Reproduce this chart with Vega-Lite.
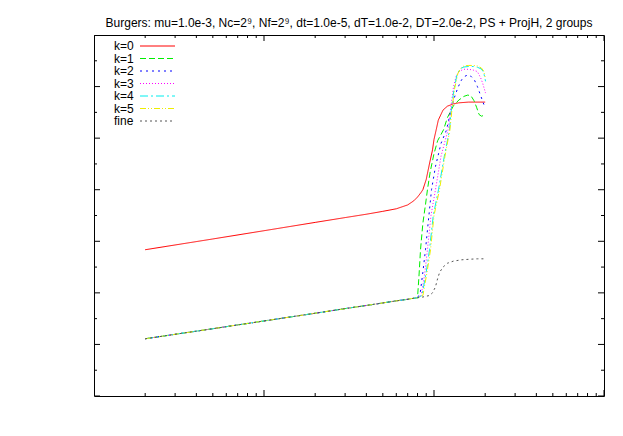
{
  "$schema": "https://vega.github.io/schema/vega-lite/v6.json",
  "width": 510,
  "height": 361,
  "autosize": {"type": "none"},
  "padding": {"left": 94, "top": 35, "right": 19, "bottom": 40},
  "background": "white",
  "config": {
    "font": "Liberation Sans",
    "view": {"stroke": "#000", "strokeWidth": 1},
    "axis": {"grid": false, "domain": false, "ticks": false, "labelColor": "#000", "titleColor": "#000", "labelFont": "Liberation Sans", "titleFont": "Liberation Sans", "labelFontSize": 11.5, "titleFontSize": 11.5, "titleFontWeight": "normal"}
  },
  "title": {"text": "Burgers: mu=1.0e-3, Nc=2⁹, Nf=2⁹, dt=1.0e-5, dT=1.0e-2, DT=2.0e-2, PS + ProjH, 2 groups", "font": "Liberation Sans", "fontSize": 12, "fontWeight": "normal", "color": "#000", "anchor": "middle", "offset": 5},
  "datasets": {
    "xticks": [
      {"v":0.01,"kind":"major"},{"v":0.1,"kind":"major"},{"v":1,"kind":"major"},{"v":10,"kind":"major"},
      {"v":0.02,"kind":"minor"},{"v":0.03,"kind":"minor"},{"v":0.04,"kind":"minor"},{"v":0.05,"kind":"minor"},{"v":0.06,"kind":"minor"},{"v":0.07,"kind":"minor"},{"v":0.08,"kind":"minor"},{"v":0.09,"kind":"minor"},
      {"v":0.2,"kind":"minor"},{"v":0.3,"kind":"minor"},{"v":0.4,"kind":"minor"},{"v":0.5,"kind":"minor"},{"v":0.6,"kind":"minor"},{"v":0.7,"kind":"minor"},{"v":0.8,"kind":"minor"},{"v":0.9,"kind":"minor"},
      {"v":2,"kind":"minor"},{"v":3,"kind":"minor"},{"v":4,"kind":"minor"},{"v":5,"kind":"minor"},{"v":6,"kind":"minor"},{"v":7,"kind":"minor"},{"v":8,"kind":"minor"},{"v":9,"kind":"minor"}
    ],
    "yticks": [
      {"v":1,"kind":"major"},{"v":0.01,"kind":"major"},{"v":0.0001,"kind":"major"},{"v":1e-6,"kind":"major"},{"v":1e-8,"kind":"major"},{"v":1e-10,"kind":"major"},{"v":1e-12,"kind":"major"},{"v":1e-14,"kind":"major"},
      {"v":0.1,"kind":"minor"},{"v":0.001,"kind":"minor"},{"v":1e-5,"kind":"minor"},{"v":1e-7,"kind":"minor"},{"v":1e-9,"kind":"minor"},{"v":1e-11,"kind":"minor"},{"v":1e-13,"kind":"minor"}
    ],
    "curves": [
    {"k":"k=0","t":0.02,"e":4.7e-9},{"k":"k=0","t":0.05,"e":1.23e-8},{"k":"k=0","t":0.1,"e":2.57e-8},{"k":"k=0","t":0.2,"e":5.4e-8},{"k":"k=0","t":0.3,"e":8.3e-8},{"k":"k=0","t":0.4,"e":1.12e-7},{"k":"k=0","t":0.5,"e":1.45e-7},{"k":"k=0","t":0.6,"e":1.82e-7},{"k":"k=0","t":0.7,"e":2.57e-7},{"k":"k=0","t":0.76,"e":3.7e-7},{"k":"k=0","t":0.8,"e":5.2e-7},{"k":"k=0","t":0.84,"e":7.9e-7},{"k":"k=0","t":0.86,"e":1.0e-6},{"k":"k=0","t":0.9,"e":2.5e-6},{"k":"k=0","t":0.94,"e":1.0e-5},{"k":"k=0","t":0.98,"e":3.5e-5},{"k":"k=0","t":1.0,"e":8.9e-5},{"k":"k=0","t":1.03,"e":2.1e-4},{"k":"k=0","t":1.06,"e":5.0e-4},{"k":"k=0","t":1.13,"e":1.23e-3},{"k":"k=0","t":1.2,"e":1.74e-3},{"k":"k=0","t":1.3,"e":2.14e-3},{"k":"k=0","t":1.4,"e":2.34e-3},{"k":"k=0","t":1.6,"e":2.5e-3},{"k":"k=0","t":2.0,"e":2.5e-3},

    {"k":"k=1","t":0.02,"e":1.66e-12},{"k":"k=1","t":0.05,"e":4.07e-12},{"k":"k=1","t":0.1,"e":8.13e-12},{"k":"k=1","t":0.2,"e":1.62e-11},{"k":"k=1","t":0.3,"e":2.45e-11},{"k":"k=1","t":0.4,"e":3.24e-11},{"k":"k=1","t":0.5,"e":4.07e-11},{"k":"k=1","t":0.6,"e":4.9e-11},{"k":"k=1","t":0.7,"e":5.62e-11},{"k":"k=1","t":0.76,"e":6.17e-11},{"k":"k=1","t":0.8,"e":6.46e-11},
    {"k":"k=1","t":0.815,"e":3.98e-10},{"k":"k=1","t":0.833,"e":4.68e-9},{"k":"k=1","t":0.86,"e":5.0e-8},{"k":"k=1","t":0.89,"e":2.5e-7},{"k":"k=1","t":0.915,"e":1.0e-6},{"k":"k=1","t":0.95,"e":5.0e-6},{"k":"k=1","t":1.0,"e":2.5e-5},{"k":"k=1","t":1.05,"e":7.9e-5},{"k":"k=1","t":1.137,"e":2.09e-4},{"k":"k=1","t":1.2,"e":6.3e-4},{"k":"k=1","t":1.3,"e":1.78e-3},{"k":"k=1","t":1.4,"e":3.0e-3},{"k":"k=1","t":1.5,"e":4.17e-3},{"k":"k=1","t":1.58,"e":4.68e-3},{"k":"k=1","t":1.65,"e":4.37e-3},{"k":"k=1","t":1.72,"e":2.82e-3},{"k":"k=1","t":1.78,"e":1.58e-3},{"k":"k=1","t":1.84,"e":8.3e-4},{"k":"k=1","t":1.9,"e":7.1e-4},{"k":"k=1","t":1.96,"e":7.6e-4},{"k":"k=1","t":2.0,"e":7.9e-4},

    {"k":"k=2","t":0.02,"e":1.66e-12},{"k":"k=2","t":0.05,"e":4.07e-12},{"k":"k=2","t":0.1,"e":8.13e-12},{"k":"k=2","t":0.2,"e":1.62e-11},{"k":"k=2","t":0.3,"e":2.45e-11},{"k":"k=2","t":0.4,"e":3.24e-11},{"k":"k=2","t":0.5,"e":4.07e-11},{"k":"k=2","t":0.6,"e":4.9e-11},{"k":"k=2","t":0.7,"e":5.62e-11},{"k":"k=2","t":0.76,"e":6.17e-11},{"k":"k=2","t":0.8,"e":6.46e-11},
    {"k":"k=2","t":0.83,"e":1.0e-10},{"k":"k=2","t":0.86,"e":6.3e-10},{"k":"k=2","t":0.891,"e":4.68e-9},{"k":"k=2","t":0.93,"e":7.9e-8},{"k":"k=2","t":0.967,"e":1.0e-6},{"k":"k=2","t":1.02,"e":7.9e-6},{"k":"k=2","t":1.1,"e":6.3e-5},{"k":"k=2","t":1.185,"e":2.09e-4},{"k":"k=2","t":1.25,"e":1.0e-3},{"k":"k=2","t":1.303,"e":3.0e-3},{"k":"k=2","t":1.38,"e":8.9e-3},{"k":"k=2","t":1.452,"e":1.82e-2},{"k":"k=2","t":1.52,"e":2.51e-2},{"k":"k=2","t":1.58,"e":2.82e-2},{"k":"k=2","t":1.65,"e":2.51e-2},{"k":"k=2","t":1.73,"e":1.78e-2},{"k":"k=2","t":1.8,"e":1.0e-2},{"k":"k=2","t":1.87,"e":5.0e-3},{"k":"k=2","t":1.94,"e":2.51e-3},{"k":"k=2","t":2.0,"e":1.51e-3},

    {"k":"k=3","t":0.02,"e":1.66e-12},{"k":"k=3","t":0.05,"e":4.07e-12},{"k":"k=3","t":0.1,"e":8.13e-12},{"k":"k=3","t":0.2,"e":1.62e-11},{"k":"k=3","t":0.3,"e":2.45e-11},{"k":"k=3","t":0.4,"e":3.24e-11},{"k":"k=3","t":0.5,"e":4.07e-11},{"k":"k=3","t":0.6,"e":4.9e-11},{"k":"k=3","t":0.7,"e":5.62e-11},{"k":"k=3","t":0.76,"e":6.17e-11},{"k":"k=3","t":0.8,"e":6.46e-11},
    {"k":"k=3","t":0.84,"e":7.9e-11},{"k":"k=3","t":0.88,"e":5.0e-10},{"k":"k=3","t":0.915,"e":4.68e-9},{"k":"k=3","t":0.96,"e":1.0e-7},{"k":"k=3","t":1.02,"e":1.0e-6},{"k":"k=3","t":1.1,"e":2.0e-5},{"k":"k=3","t":1.209,"e":2.09e-4},{"k":"k=3","t":1.251,"e":1.26e-3},{"k":"k=3","t":1.303,"e":1.0e-2},{"k":"k=3","t":1.35,"e":2.51e-2},{"k":"k=3","t":1.41,"e":3.98e-2},{"k":"k=3","t":1.5,"e":4.68e-2},{"k":"k=3","t":1.6,"e":4.68e-2},{"k":"k=3","t":1.7,"e":4.37e-2},{"k":"k=3","t":1.8,"e":3.8e-2},{"k":"k=3","t":1.88,"e":2.2e-2},{"k":"k=3","t":1.93,"e":1.4e-2},{"k":"k=3","t":2.01,"e":5.6e-3},

    {"k":"k=4","t":0.02,"e":1.66e-12},{"k":"k=4","t":0.05,"e":4.07e-12},{"k":"k=4","t":0.1,"e":8.13e-12},{"k":"k=4","t":0.2,"e":1.62e-11},{"k":"k=4","t":0.3,"e":2.45e-11},{"k":"k=4","t":0.4,"e":3.24e-11},{"k":"k=4","t":0.5,"e":4.07e-11},{"k":"k=4","t":0.6,"e":4.9e-11},{"k":"k=4","t":0.7,"e":5.62e-11},{"k":"k=4","t":0.76,"e":6.17e-11},{"k":"k=4","t":0.8,"e":6.46e-11},
    {"k":"k=4","t":0.85,"e":7.9e-11},{"k":"k=4","t":0.9,"e":6.3e-10},{"k":"k=4","t":0.941,"e":4.68e-9},{"k":"k=4","t":0.99,"e":1.0e-7},{"k":"k=4","t":1.063,"e":1.0e-6},{"k":"k=4","t":1.15,"e":2.0e-5},{"k":"k=4","t":1.234,"e":2.09e-4},{"k":"k=4","t":1.259,"e":1.0e-3},{"k":"k=4","t":1.311,"e":7.9e-3},{"k":"k=4","t":1.37,"e":3.16e-2},{"k":"k=4","t":1.43,"e":5.0e-2},{"k":"k=4","t":1.5,"e":5.75e-2},{"k":"k=4","t":1.6,"e":6.0e-2},{"k":"k=4","t":1.7,"e":6.0e-2},{"k":"k=4","t":1.8,"e":5.6e-2},{"k":"k=4","t":1.9,"e":4.8e-2},{"k":"k=4","t":1.96,"e":3.55e-2},{"k":"k=4","t":2.01,"e":1.6e-2},

    {"k":"k=5","t":0.02,"e":1.66e-12},{"k":"k=5","t":0.05,"e":4.07e-12},{"k":"k=5","t":0.1,"e":8.13e-12},{"k":"k=5","t":0.2,"e":1.62e-11},{"k":"k=5","t":0.3,"e":2.45e-11},{"k":"k=5","t":0.4,"e":3.24e-11},{"k":"k=5","t":0.5,"e":4.07e-11},{"k":"k=5","t":0.6,"e":4.9e-11},{"k":"k=5","t":0.7,"e":5.62e-11},{"k":"k=5","t":0.76,"e":6.17e-11},{"k":"k=5","t":0.8,"e":6.46e-11},
    {"k":"k=5","t":0.86,"e":7.9e-11},{"k":"k=5","t":0.91,"e":6.3e-10},{"k":"k=5","t":0.954,"e":4.68e-9},{"k":"k=5","t":1.0,"e":1.0e-7},{"k":"k=5","t":1.077,"e":1.0e-6},{"k":"k=5","t":1.16,"e":2.0e-5},{"k":"k=5","t":1.24,"e":2.09e-4},{"k":"k=5","t":1.27,"e":1.0e-3},{"k":"k=5","t":1.32,"e":7.9e-3},{"k":"k=5","t":1.38,"e":3.16e-2},{"k":"k=5","t":1.44,"e":5.25e-2},{"k":"k=5","t":1.5,"e":6.3e-2},{"k":"k=5","t":1.6,"e":6.6e-2},{"k":"k=5","t":1.7,"e":6.6e-2},{"k":"k=5","t":1.8,"e":6.3e-2},{"k":"k=5","t":1.9,"e":5.25e-2},{"k":"k=5","t":1.96,"e":4.0e-2},{"k":"k=5","t":2.01,"e":2.0e-2},

    {"k":"fine","t":0.02,"e":1.66e-12},{"k":"fine","t":0.05,"e":4.07e-12},{"k":"fine","t":0.1,"e":8.13e-12},{"k":"fine","t":0.2,"e":1.62e-11},{"k":"fine","t":0.3,"e":2.45e-11},{"k":"fine","t":0.4,"e":3.24e-11},{"k":"fine","t":0.5,"e":4.07e-11},{"k":"fine","t":0.6,"e":4.9e-11},{"k":"fine","t":0.7,"e":5.62e-11},{"k":"fine","t":0.76,"e":6.17e-11},{"k":"fine","t":0.8,"e":6.46e-11},
    {"k":"fine","t":0.86,"e":6.9e-11},{"k":"fine","t":0.94,"e":7.9e-11},{"k":"fine","t":0.98,"e":1.0e-10},{"k":"fine","t":1.02,"e":1.7e-10},{"k":"fine","t":1.05,"e":3.55e-10},{"k":"fine","t":1.08,"e":6.3e-10},{"k":"fine","t":1.13,"e":1.0e-9},{"k":"fine","t":1.2,"e":1.41e-9},{"k":"fine","t":1.3,"e":1.7e-9},{"k":"fine","t":1.45,"e":1.91e-9},{"k":"fine","t":1.6,"e":2.0e-9},{"k":"fine","t":1.8,"e":2.09e-9},{"k":"fine","t":2.0,"e":2.09e-9}
    ]
  },
  "layer": [
    {
      "data": {"name": "curves"},
      "mark": {"type": "line", "strokeWidth": 1, "clip": true},
      "encoding": {
        "x": {"field": "t", "type": "quantitative", "scale": {"type": "log", "domain": [0.01, 10], "nice": false},
              "axis": {"orient": "bottom", "values": [0.01, 0.1, 1, 10], "format": "~g", "ticks": false, "labelPadding": 8, "labelFlush": false, "title": "time", "titleX": 255, "titleY": 31, "titleBaseline": "middle"}},
        "y": {"field": "e", "type": "quantitative", "scale": {"type": "log", "domain": [1e-14, 1], "nice": false},
              "axis": {"orient": "left", "values": [1, 0.01, 0.0001, 1e-6, 1e-8, 1e-10, 1e-12, 1e-14], "labelExpr": "datum.value >= 0.0001 ? format(datum.value, '~g') : '1e-' + (round(-log(datum.value)/LN10) < 10 ? '0' : '') + round(-log(datum.value)/LN10)", "ticks": false, "labelPadding": 7, "labelFlush": false, "title": "relative error of solution, exact one: dt=1.0e-6", "titleX": -76, "titleY": 180, "titleBaseline": "middle", "titleAlign": "center", "titleAngle": 270}},
        "color": {"field": "k", "type": "nominal", "scale": {"domain": ["k=0", "k=1", "k=2", "k=3", "k=4", "k=5", "fine"], "range": ["#ff0000", "#00ee00", "#0000ff", "#ff00ff", "#00eeee", "#eeee00", "#555555"]},
                  "legend": {"title": null, "orient": "none", "legendX": 57.5, "legendY": 5, "symbolType": "M-3.5,0H3.5", "symbolSize": 100, "symbolStrokeWidth": 1, "labelFontSize": 12, "labelFont": "Liberation Sans", "labelColor": "#000", "labelOffset": -49.5, "rowPadding": 0.5, "padding": 0}},
        "strokeDash": {"field": "k", "type": "nominal", "scale": {"domain": ["k=0", "k=1", "k=2", "k=3", "k=4", "k=5", "fine"], "range": [[1, 0], [6, 3], [2, 4], [1, 2], [8, 3, 2, 3], [6, 2, 1, 2, 1, 2], [2, 3]]}, "legend": null}
      }
    },
    {
      "data": {"name": "xticks"},
      "mark": {"type": "tick", "orient": "vertical", "thickness": 1, "color": "#000", "opacity": 1, "clip": true},
      "encoding": {
        "x": {"field": "v", "type": "quantitative", "axis": null},
        "y": {"datum": 1e-14, "type": "quantitative", "axis": null},
        "size": {"field": "kind", "type": "nominal", "scale": {"domain": ["major", "minor"], "range": [12, 6]}, "legend": null}
      }
    },
    {
      "data": {"name": "xticks"},
      "mark": {"type": "tick", "orient": "vertical", "thickness": 1, "color": "#000", "opacity": 1, "clip": true},
      "encoding": {
        "x": {"field": "v", "type": "quantitative", "axis": null},
        "y": {"datum": 1, "type": "quantitative", "axis": null},
        "size": {"field": "kind", "type": "nominal", "scale": {"domain": ["major", "minor"], "range": [12, 6]}, "legend": null}
      }
    },
    {
      "data": {"name": "yticks"},
      "mark": {"type": "tick", "orient": "horizontal", "thickness": 1, "color": "#000", "opacity": 1, "clip": true},
      "encoding": {
        "y": {"field": "v", "type": "quantitative", "axis": null},
        "x": {"datum": 0.01, "type": "quantitative", "axis": null},
        "size": {"field": "kind", "type": "nominal", "scale": {"domain": ["major", "minor"], "range": [12, 6]}, "legend": null}
      }
    },
    {
      "data": {"name": "yticks"},
      "mark": {"type": "tick", "orient": "horizontal", "thickness": 1, "color": "#000", "opacity": 1, "clip": true},
      "encoding": {
        "y": {"field": "v", "type": "quantitative", "axis": null},
        "x": {"datum": 10, "type": "quantitative", "axis": null},
        "size": {"field": "kind", "type": "nominal", "scale": {"domain": ["major", "minor"], "range": [12, 6]}, "legend": null}
      }
    }
  ]
}
